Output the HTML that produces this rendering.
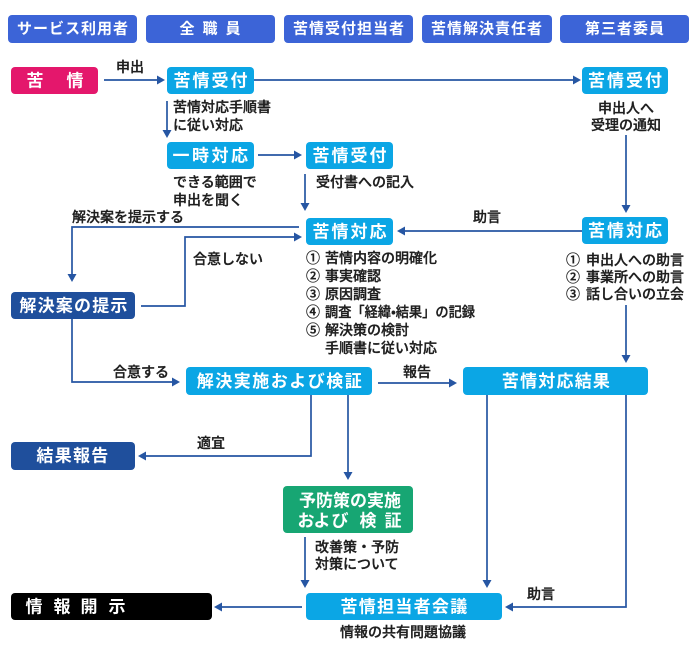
<!DOCTYPE html>
<html><head><meta charset="utf-8"><style>
html,body{margin:0;padding:0;background:#fff;}
svg{display:block;}
text{font-family:"Liberation Sans","Noto Sans CJK JP",sans-serif;}
.h{fill:#fff;font-weight:bold;font-size:15px;letter-spacing:1px;}
.b{fill:#fff;font-weight:bold;font-size:17px;}
.t{fill:#1e1e1e;font-size:14px;font-weight:500;stroke:#1e1e1e;stroke-width:0.35px;}
.ln{fill:none;stroke:#2656a3;stroke-width:1.7;}
.ah{fill:#2656a3;}
</style></head><body>
<svg width="700" height="649" viewBox="0 0 700 649" xmlns="http://www.w3.org/2000/svg">
<!-- headers -->
<g fill="#3c64d7">
<rect x="8" y="15" width="129" height="28" rx="4"/>
<rect x="146" y="15" width="129" height="28" rx="4"/>
<rect x="284" y="15" width="129" height="28" rx="4"/>
<rect x="422" y="15" width="130" height="28" rx="4"/>
<rect x="560" y="15" width="129" height="28" rx="4"/>
</g>
<g dominant-baseline="central" text-anchor="middle">
<text class="h" x="73" y="29">サービス利用者</text>
<text class="h" x="214" y="29" style="letter-spacing:8px">全職員</text>
<text class="h" x="349" y="29">苦情受付担当者</text>
<text class="h" x="487" y="29">苦情解決責任者</text>
<text class="h" x="625" y="29">第三者委員</text>
</g>

<!-- boxes -->
<rect x="11" y="67" width="87" height="27" rx="4" fill="#e4176c"/>
<g fill="#0ba6e5">
<rect x="167" y="67" width="87" height="27" rx="4"/>
<rect x="582" y="67" width="86" height="27" rx="4"/>
<rect x="167" y="142" width="87" height="27" rx="4"/>
<rect x="306" y="142" width="87" height="27" rx="4"/>
<rect x="306" y="218" width="87" height="27" rx="4"/>
<rect x="582" y="217" width="86" height="27" rx="4"/>
<rect x="186" y="367" width="186" height="28" rx="4"/>
<rect x="463" y="367" width="185" height="28" rx="4"/>
<rect x="306" y="593" width="196" height="27" rx="4"/>
</g>
<g fill="#1f4f9c">
<rect x="11" y="292" width="124" height="27" rx="4"/>
<rect x="11" y="442" width="124" height="28" rx="4"/>
</g>
<rect x="283" y="486" width="130" height="47" rx="4" fill="#17a673"/>
<rect x="11" y="593" width="201" height="27" rx="4" fill="#000"/>

<!-- box labels -->
<g dominant-baseline="central" text-anchor="middle">
<text class="b" x="35" y="81">苦</text>
<text class="b" x="75" y="81">情</text>
<text class="b" x="211.5" y="81" style="letter-spacing:2px">苦情受付</text>
<text class="b" x="626" y="81" style="letter-spacing:2px">苦情受付</text>
<text class="b" x="211.5" y="156" style="letter-spacing:2.5px">一時対応</text>
<text class="b" x="350.5" y="156" style="letter-spacing:2px">苦情受付</text>
<text class="b" x="350.5" y="232" style="letter-spacing:2px">苦情対応</text>
<text class="b" x="626" y="231" style="letter-spacing:2px">苦情対応</text>
<text class="b" x="280" y="381.5" style="letter-spacing:1.5px">解決実施および検証</text>
<text class="b" x="556.5" y="381.5" style="letter-spacing:1.2px">苦情対応結果</text>
<text class="b" x="404.5" y="607" style="letter-spacing:1.3px">苦情担当者会議</text>
<text class="b" x="74" y="306" style="letter-spacing:1.2px">解決案の提示</text>
<text class="b" x="73" y="456" style="letter-spacing:1.3px">結果報告</text>
<text class="b" x="350" y="501">予防策の実施</text>
<text class="b" x="306" y="521">お</text>
<text class="b" x="322" y="521">よ</text>
<text class="b" x="340" y="521">び</text>
<text class="b" x="368" y="521">検</text>
<text class="b" x="393" y="521">証</text>
<text class="b" x="34" y="607">情</text>
<text class="b" x="62" y="607">報</text>
<text class="b" x="89" y="607">開</text>
<text class="b" x="117" y="607">示</text>
</g>

<!-- connectors -->
<path class="ln" d="M104 80H157"/><polygon class="ah" points="165,80 157,75.5 157,84.5"/>
<path class="ln" d="M254 80H573"/><polygon class="ah" points="581,80 573,75.5 573,84.5"/>
<path class="ln" d="M167 101V130"/><polygon class="ah" points="167,138 162.5,130 171.5,130"/>
<path class="ln" d="M258 155H294"/><polygon class="ah" points="302,155 294,150.5 294,159.5"/>
<path class="ln" d="M305 174V203"/><polygon class="ah" points="305,211 300.5,203 309.5,203"/>
<path class="ln" d="M626 135V205"/><polygon class="ah" points="626,213 621.5,205 630.5,205"/>
<path class="ln" d="M582 231H405"/><polygon class="ah" points="397,231 405,226.5 405,235.5"/>
<path class="ln" d="M299 227H72V274"/><polygon class="ah" points="72,282 67.5,274 76.5,274"/>
<path class="ln" d="M141 306H185V237H294"/><polygon class="ah" points="302,237 294,232.5 294,241.5"/>
<path class="ln" d="M72 319V382H172"/><polygon class="ah" points="180,382 172,377.5 172,386.5"/>
<path class="ln" d="M378 383H449"/><polygon class="ah" points="457,383 449,378.5 449,387.5"/>
<path class="ln" d="M626 305V355"/><polygon class="ah" points="626,363 621.5,355 630.5,355"/>
<path class="ln" d="M311 395V456H146"/><polygon class="ah" points="138,456 146,451.5 146,460.5"/>
<path class="ln" d="M348 395V472"/><polygon class="ah" points="348,480 343.5,472 352.5,472"/>
<path class="ln" d="M305 537V580"/><polygon class="ah" points="305,588 300.5,580 309.5,580"/>
<path class="ln" d="M487 395V580"/><polygon class="ah" points="487,588 482.5,580 491.5,580"/>
<path class="ln" d="M626 395V607H513"/><polygon class="ah" points="505,607 513,602.5 513,611.5"/>
<path class="ln" d="M302 607H222"/><polygon class="ah" points="214,607 222,602.5 222,611.5"/>

<!-- annotations -->
<g dominant-baseline="central">
<text class="t" x="116" y="67">申出</text>
<text class="t" x="173" y="107">苦情対応手順書</text>
<text class="t" x="173" y="125">に従い対応</text>
<text class="t" x="626" y="108" text-anchor="middle">申出人へ</text>
<text class="t" x="626" y="125" text-anchor="middle">受理の通知</text>
<text class="t" x="173" y="182">できる範囲で</text>
<text class="t" x="173" y="200">申出を聞く</text>
<text class="t" x="316" y="182">受付書への記入</text>
<text class="t" x="72" y="217">解決案を提示する</text>
<text class="t" x="473" y="217">助言</text>
<text class="t" x="193" y="259">合意しない</text>
<text class="t" x="306" y="258">①</text><text class="t" x="325" y="258">苦情内容の明確化</text>
<text class="t" x="306" y="276">②</text><text class="t" x="325" y="276">事実確認</text>
<text class="t" x="306" y="294">③</text><text class="t" x="325" y="294">原因調査</text>
<text class="t" x="306" y="312">④</text><text class="t" x="325" y="312" textLength="150" lengthAdjust="spacingAndGlyphs">調査「経緯•結果」の記録</text>
<text class="t" x="306" y="330">⑤</text><text class="t" x="325" y="330">解決策の検討</text>
<text class="t" x="325" y="348">手順書に従い対応</text>
<text class="t" x="566" y="260">①</text><text class="t" x="586" y="260">申出人への助言</text>
<text class="t" x="566" y="277">②</text><text class="t" x="586" y="277">事業所への助言</text>
<text class="t" x="566" y="294">③</text><text class="t" x="586" y="294">話し合いの立会</text>
<text class="t" x="113" y="372">合意する</text>
<text class="t" x="403" y="372">報告</text>
<text class="t" x="197" y="443">適宜</text>
<text class="t" x="315" y="547">改善策・予防</text>
<text class="t" x="315" y="564">対策について</text>
<text class="t" x="527" y="594">助言</text>
<text class="t" x="340" y="632">情報の共有問題協議</text>
</g>
</svg>
</body></html>
